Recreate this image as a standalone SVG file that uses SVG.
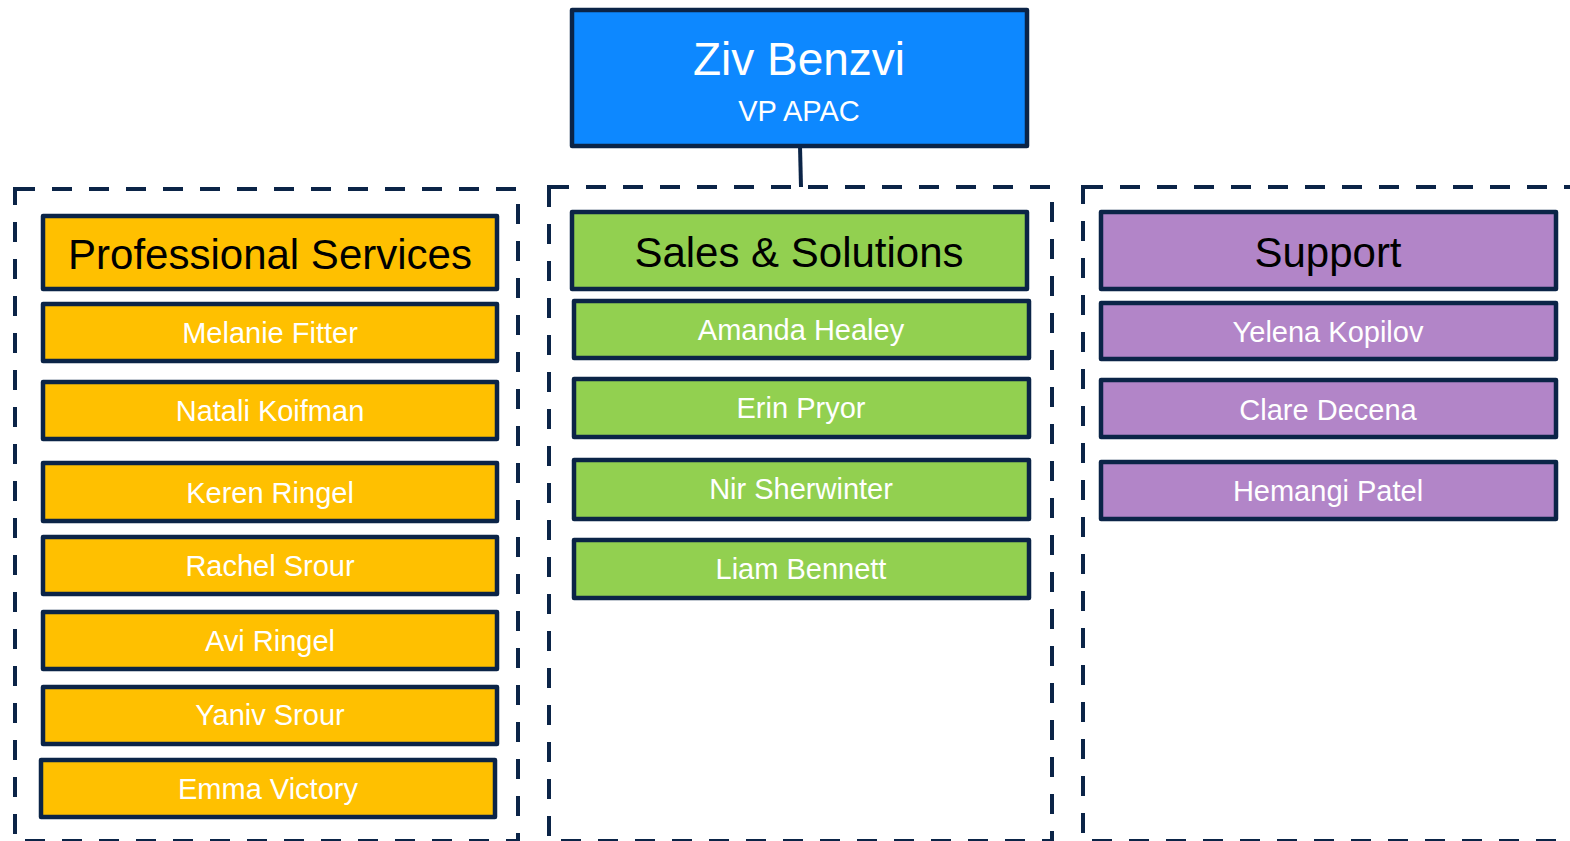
<svg xmlns="http://www.w3.org/2000/svg" width="1570" height="841" viewBox="0 0 1570 841">
<style>
.box{stroke:#0b2447;stroke-width:4.5;stroke-linejoin:round}
.cont{fill:none;stroke:#0b2447;stroke-width:4;stroke-dasharray:20 17}
.or{fill:#ffc000}.gr{fill:#92d050}.pu{fill:#b285c8}
.h{font-family:"Liberation Sans",Arial,sans-serif;font-size:42px;fill:#000;text-anchor:middle}
.n{font-family:"Liberation Sans",Arial,sans-serif;font-size:29px;fill:#fff;text-anchor:middle}
</style>
<rect width="1570" height="841" fill="#fff"/>
<g id="containers">
<rect class="cont" x="15" y="189" width="503" height="652"/>
<rect class="cont" x="549" y="187" width="503" height="654"/>
<rect class="cont" x="1083" y="187" width="520" height="654"/>
</g>
<g id="connectors">
<line x1="800" y1="146" x2="801" y2="187" stroke="#0b2447" stroke-width="4"/>
</g>
<g id="ziv">
<rect class="box" x="572" y="10" width="455" height="136" fill="#0d88ff"/>
<text x="799" y="75" font-family="Liberation Sans,Arial,sans-serif" font-size="46" fill="#fff" text-anchor="middle">Ziv Benzvi</text>
<text x="799" y="121" font-family="Liberation Sans,Arial,sans-serif" font-size="29" fill="#fff" text-anchor="middle">VP APAC</text>
</g>
<g id="ps-head"><rect class="box or" x="43" y="216" width="454" height="73"/><text class="h" x="270" y="269">Professional Services</text></g>
<g id="ps-1"><rect class="box or" x="43" y="304" width="454" height="57"/><text class="n" x="270" y="343">Melanie Fitter</text></g>
<g id="ps-2"><rect class="box or" x="43" y="382" width="454" height="57"/><text class="n" x="270" y="421">Natali Koifman</text></g>
<g id="ps-3"><rect class="box or" x="43" y="463" width="454" height="58"/><text class="n" x="270" y="503">Keren Ringel</text></g>
<g id="ps-4"><rect class="box or" x="43" y="537" width="454" height="57"/><text class="n" x="270" y="576">Rachel Srour</text></g>
<g id="ps-5"><rect class="box or" x="43" y="612" width="454" height="57"/><text class="n" x="270" y="651">Avi Ringel</text></g>
<g id="ps-6"><rect class="box or" x="43" y="687" width="454" height="57"/><text class="n" x="270" y="725">Yaniv Srour</text></g>
<g id="ps-7"><rect class="box or" x="41" y="760" width="454" height="57"/><text class="n" x="268" y="799">Emma Victory</text></g>
<g id="ss-head"><rect class="box gr" x="572" y="212" width="455" height="77"/><text class="h" x="799" y="267">Sales &amp; Solutions</text></g>
<g id="ss-1"><rect class="box gr" x="574" y="301" width="455" height="57"/><text class="n" x="801" y="340">Amanda Healey</text></g>
<g id="ss-2"><rect class="box gr" x="574" y="379" width="455" height="58"/><text class="n" x="801" y="418">Erin Pryor</text></g>
<g id="ss-3"><rect class="box gr" x="574" y="460" width="455" height="59"/><text class="n" x="801" y="499">Nir Sherwinter</text></g>
<g id="ss-4"><rect class="box gr" x="574" y="540" width="455" height="58"/><text class="n" x="801" y="579">Liam Bennett</text></g>
<g id="su-head"><rect class="box pu" x="1101" y="212" width="455" height="77"/><text class="h" x="1328" y="267">Support</text></g>
<g id="su-1"><rect class="box pu" x="1101" y="303" width="455" height="56"/><text class="n" x="1328" y="342">Yelena Kopilov</text></g>
<g id="su-2"><rect class="box pu" x="1101" y="380" width="455" height="57"/><text class="n" x="1328" y="420">Clare Decena</text></g>
<g id="su-3"><rect class="box pu" x="1101" y="462" width="455" height="57"/><text class="n" x="1328" y="501">Hemangi Patel</text></g>
</svg>
